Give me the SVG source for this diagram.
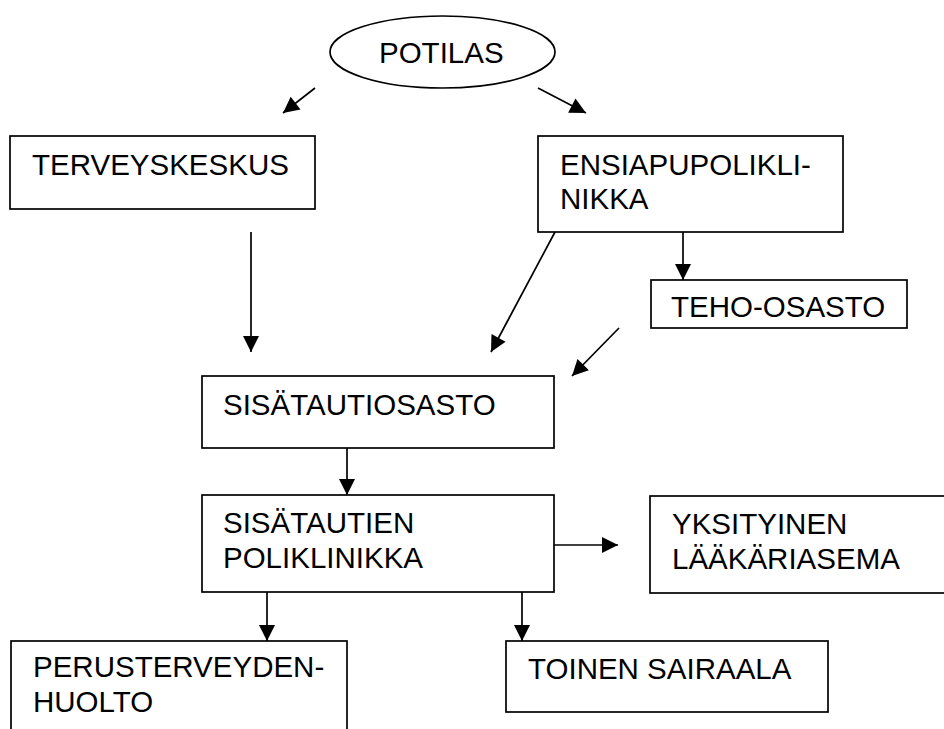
<svg xmlns="http://www.w3.org/2000/svg" width="944" height="729" viewBox="0 0 944 729">
<style>
.box{fill:#fff;stroke:#000;stroke-width:1.7}
.t{font-family:"Liberation Sans",Arial,sans-serif;font-size:29.5px;fill:#000}
.c{stroke:#000;stroke-width:1.7;fill:none;marker-end:url(#ah)}
</style>
<defs>
<marker id="ah" markerUnits="userSpaceOnUse" markerWidth="18" markerHeight="18" refX="16" refY="8" orient="auto" overflow="visible">
<path d="M0,0 L16,8 L0,16 z" fill="#000"/>
</marker>
</defs>
<rect width="944" height="729" fill="#fff"/>
<g id="potilas">
<ellipse class="box" cx="442.5" cy="52" rx="112.5" ry="36"/>
<text class="t" x="379" y="63">POTILAS</text>
</g>
<g id="terveyskeskus">
<rect class="box" x="10" y="136" width="305" height="73"/>
<text class="t" x="32" y="175">TERVEYSKESKUS</text>
</g>
<g id="ensiapu">
<rect class="box" x="538" y="136" width="305" height="96"/>
<text class="t" x="560" y="175">ENSIAPUPOLIKLI-</text>
<text class="t" x="560" y="209">NIKKA</text>
</g>
<g id="teho">
<rect class="box" x="651" y="280" width="256" height="48"/>
<text class="t" x="671" y="317">TEHO-OSASTO</text>
</g>
<g id="sisatautiosasto">
<rect class="box" x="202" y="376" width="352" height="72"/>
<text class="t" x="223" y="415">SISÄTAUTIOSASTO</text>
</g>
<g id="poliklinikka">
<rect class="box" x="202" y="495" width="352" height="97"/>
<text class="t" x="223" y="533">SISÄTAUTIEN</text>
<text class="t" x="223" y="568">POLIKLINIKKA</text>
</g>
<g id="yksityinen">
<rect class="box" x="650" y="496" width="310" height="97"/>
<text class="t" x="672" y="534">YKSITYINEN</text>
<text class="t" x="672" y="569">LÄÄKÄRIASEMA</text>
</g>
<g id="perusterveydenhuolto">
<rect class="box" x="11" y="641" width="336" height="110"/>
<text class="t" x="33" y="677">PERUSTERVEYDEN-</text>
<text class="t" x="33" y="712">HUOLTO</text>
</g>
<g id="toinen">
<rect class="box" x="506" y="641" width="322" height="71"/>
<text class="t" x="528" y="679">TOINEN SAIRAALA</text>
</g>
<g id="connectors">
<line class="c" x1="315" y1="88" x2="283" y2="113"/>
<line class="c" x1="538" y1="88" x2="586" y2="113"/>
<line class="c" x1="251" y1="232" x2="251" y2="352"/>
<line class="c" x1="683" y1="232" x2="683" y2="280"/>
<line class="c" x1="555" y1="232" x2="491" y2="352"/>
<line class="c" x1="619" y1="328" x2="572" y2="376"/>
<line class="c" x1="347" y1="448" x2="347" y2="495"/>
<line class="c" x1="554" y1="545" x2="618" y2="545"/>
<line class="c" x1="267" y1="592" x2="267" y2="641"/>
<line class="c" x1="522" y1="592" x2="522" y2="641"/>
</g>
</svg>
